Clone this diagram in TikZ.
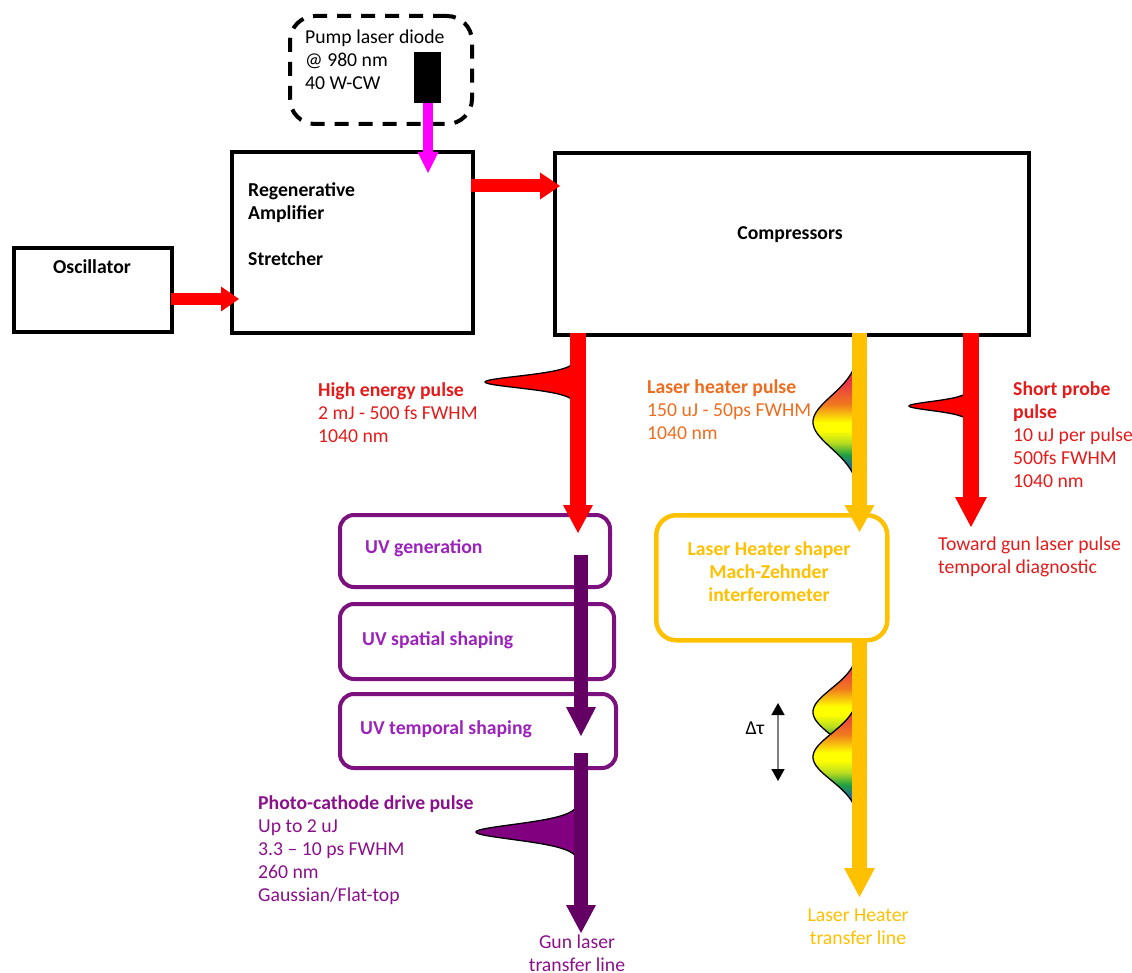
\documentclass[tikz,border=0pt]{standalone}
\usepackage{fontspec}
\setmainfont{Carlito}
\usetikzlibrary{arrows.meta}
\definecolor{laserred}{HTML}{FF0000}
\definecolor{txtred}{HTML}{E41B1B}
\definecolor{txtorange}{HTML}{EE6C1E}
\definecolor{lhyellow}{HTML}{FFC000}
\definecolor{pumpmag}{HTML}{FF00FF}
\definecolor{boxpurple}{HTML}{7B107E}
\definecolor{uvtxt}{HTML}{9B22BA}
\definecolor{darkpurple}{HTML}{640064}
\definecolor{pulsepurple}{HTML}{800080}
\definecolor{pctxt}{HTML}{8B108B}
\definecolor{rbred}{HTML}{E8304A}
\definecolor{rborange}{HTML}{F07A1E}
\definecolor{rbyellow}{HTML}{FFFF00}
\definecolor{rbyg}{HTML}{B8DC20}
\definecolor{rbgreen}{HTML}{20A040}
\definecolor{rbblue}{HTML}{2060B0}
\pgfdeclareverticalshading{rbfix}{70bp}{color(0bp)=(rbblue); color(8bp)=(rbblue); color(22bp)=(rbgreen); color(34bp)=(rbyg); color(46bp)=(rbyellow); color(54bp)=(rbyellow); color(72bp)=(rborange); color(96bp)=(rbred); color(130bp)=(rbred)}
\begin{document}
\begin{tikzpicture}[x=1pt,y=-1pt,
  every node/.style={inner sep=0pt, font=\fontsize{19.7}{23}\selectfont},
  bfont/.style={font=\fontsize{19.7}{23}\selectfont\bfseries},
  blackbox/.style={draw=black, line width=4pt, anchor=north west},
  uvbox/.style={draw=boxpurple, line width=4pt, rounded corners=14pt, anchor=north west},
  txt/.style={anchor=north west, align=left},
  barrow/.style n args={4}{draw=#1, line width=#2, -{Triangle[width=#3,length=#4,line width=0pt]}},
  pulseline/.style={draw=black, line width=1.3pt}]
\useasboundingbox (0,0) rectangle (1132,973);

% ---------- boxes ----------
\node[draw=black, line width=4pt, dash pattern=on 14pt off 10pt, rounded corners=25pt,
      minimum width=182pt, minimum height=108pt, anchor=north west] (pump) at (288,14) {};
\node[fill=black, minimum width=27pt, minimum height=51pt, anchor=north west] (diode) at (414,52) {};
\node[blackbox, minimum width=241pt, minimum height=181pt] (regen) at (230,150) {};
\node[blackbox, minimum width=158pt, minimum height=84pt] (osc) at (12,246) {};
\node[blackbox, minimum width=474pt, minimum height=182pt] (comp) at (553,151) {};
\node[uvbox, minimum width=270pt, minimum height=72pt] (uv1) at (338,513) {};
\node[uvbox, minimum width=274pt, minimum height=75pt] (uv2) at (338,602) {};
\node[uvbox, minimum width=276pt, minimum height=74pt] (uv3) at (338,692) {};
\node[draw=lhyellow, line width=4.5pt, rounded corners=20pt, anchor=north west,
      minimum width=231pt, minimum height=125pt] (lhs) at (654,513) {};

% ---------- texts ----------
\node[txt] (pumptxt) at (305,30) {Pump laser diode\\@ 980 nm\\40 W-CW};
\node[txt, bfont] (regentxt) at (248,182) {Regenerative\\Amplifier\\[23pt]Stretcher};
\node[bfont] (osctxt) at (92,267) {Oscillator};
\node[bfont] (comptxt) at (790,235) {Compressors};
\node[txt, text=txtred] (hetxt) at (318,382) {\textbf{High energy pulse}\\2 mJ - 500 fs FWHM\\1040 nm};
\node[txt, text=txtorange] (lhtxt) at (647,379) {\textbf{Laser heater pulse}\\150 uJ - 50ps FWHM\\1040 nm};
\node[txt, text=txtred] (sptxt) at (1013,381) {\textbf{Short probe}\\\textbf{pulse}\\10 uJ per pulse\\500fs FWHM\\1040 nm};
\node[txt, text=txtred] (towtxt) at (938,537) {Toward gun laser pulse\\temporal diagnostic};
\node[anchor=west, text=uvtxt, bfont] (uv1txt) at (365,548) {UV generation};
\node[anchor=west, text=uvtxt, bfont] (uv2txt) at (362,640) {UV spatial shaping};
\node[anchor=west, text=uvtxt, bfont] (uv3txt) at (360,729) {UV temporal shaping};
\node[anchor=north, align=center, text=lhyellow, bfont] (lhstxt) at (769,541) {Laser Heater shaper\\Mach-Zehnder\\interferometer};
\node[txt, text=pctxt] (pctxt) at (258,795) {\textbf{Photo-cathode drive pulse}\\Up to 2 uJ\\3.3 – 10 ps FWHM\\260 nm\\Gaussian/Flat-top};
\node[anchor=north, align=center, text=pctxt] (guntxt) at (577,935) {Gun laser\\transfer line};
\node (dtau) at (755,728) {Δτ};
\node[anchor=north, align=center, text=lhyellow] (lhttxt) at (858,909) {Laser Heater\\transfer line};

% ---------- pulses ----------
\filldraw[fill=laserred, pulseline] plot[domain=356:406, samples=90, smooth] ({578-93/cosh((\x-382)/8.5)^2}, \x) -- cycle;
\filldraw[fill=laserred, pulseline] plot[domain=386:426, samples=90, smooth] ({971-62/cosh((\x-406)/6.5)^2}, \x) -- cycle;
\filldraw[fill=pulsepurple, pulseline] plot[domain=804:860, samples=90, smooth] ({581-105/cosh((\x-832)/11)^2}, \x) -- cycle;

\begin{scope}
  \clip plot[domain=366:486, samples=90, smooth] ({859.5-46.5*exp(-((\x-422)/37)^2)}, \x) -- cycle;
  \node[anchor=south west] (rb1) at (800,477) {\pgfuseshading{rbfix}};
\end{scope}
\draw[pulseline] plot[domain=366:486, samples=90, smooth] ({859.5-46.5*exp(-((\x-422)/37)^2)}, \x);

\begin{scope}
  \clip plot[domain=654:770, samples=90, smooth] ({859.5-46.5*exp(-((\x-712)/33)^2)}, \x) -- cycle;
  \node[anchor=south west] (rb2) at (800,761) {\pgfuseshading{rbfix}};
\end{scope}
\draw[pulseline] plot[domain=654:770, samples=90, smooth] ({859.5-46.5*exp(-((\x-712)/33)^2)}, \x);

\begin{scope}
  \clip plot[domain=700:818, samples=90, smooth] ({859.5-46.5*exp(-((\x-757)/33)^2)}, \x) -- cycle;
  \node[anchor=south west] (rb3) at (800,807) {\pgfuseshading{rbfix}};
\end{scope}
\draw[pulseline] plot[domain=700:818, samples=90, smooth] ({859.5-46.5*exp(-((\x-757)/33)^2)}, \x);

% ---------- arrow end points ----------
\coordinate (pumpA) at (428,103);
\coordinate (pumpB) at (428,173);
\coordinate (oscA) at (171,299);
\coordinate (oscB) at (239,299);
\coordinate (regA) at (471,186);
\coordinate (regB) at (560,186);
\coordinate (heA) at (578,333);
\coordinate (heB) at (578,533);
\coordinate (lhA) at (859.5,333);
\coordinate (lhB) at (859.5,532);
\coordinate (spA) at (971,333);
\coordinate (spB) at (971,527);
\coordinate (uvA) at (581,555);
\coordinate (uvB) at (581,736);
\coordinate (pcA) at (581,753);
\coordinate (pcB) at (581,933);
\coordinate (ltA) at (859.5,638);
\coordinate (ltB) at (859.5,897);
\coordinate (dtA) at (778,703);
\coordinate (dtB) at (778,781);

% ---------- arrows ----------
\draw[barrow={pumpmag}{10pt}{21pt}{21pt}] (pumpA) -- (pumpB);
\draw[barrow={laserred}{12pt}{25pt}{18pt}] (oscA) -- (oscB);
\draw[barrow={laserred}{13pt}{27pt}{20pt}] (regA) -- (regB);
\draw[barrow={laserred}{16pt}{30pt}{28pt}] (heA) -- (heB);
\draw[barrow={lhyellow}{15pt}{30pt}{27pt}] (lhA) -- (lhB);
\draw[barrow={laserred}{16pt}{32pt}{30pt}] (spA) -- (spB);
\draw[barrow={darkpurple}{14pt}{30pt}{29pt}] (uvA) -- (uvB);
\draw[barrow={darkpurple}{14pt}{30pt}{28pt}] (pcA) -- (pcB);
\draw[barrow={lhyellow}{15pt}{31pt}{29pt}] (ltA) -- (ltB);
\draw[draw=gray, line width=1.5pt, {Triangle[width=13pt,length=12pt,color=black]}-{Triangle[width=13pt,length=12pt,color=black]}] (dtA) -- (dtB);
\end{tikzpicture}
\end{document}
